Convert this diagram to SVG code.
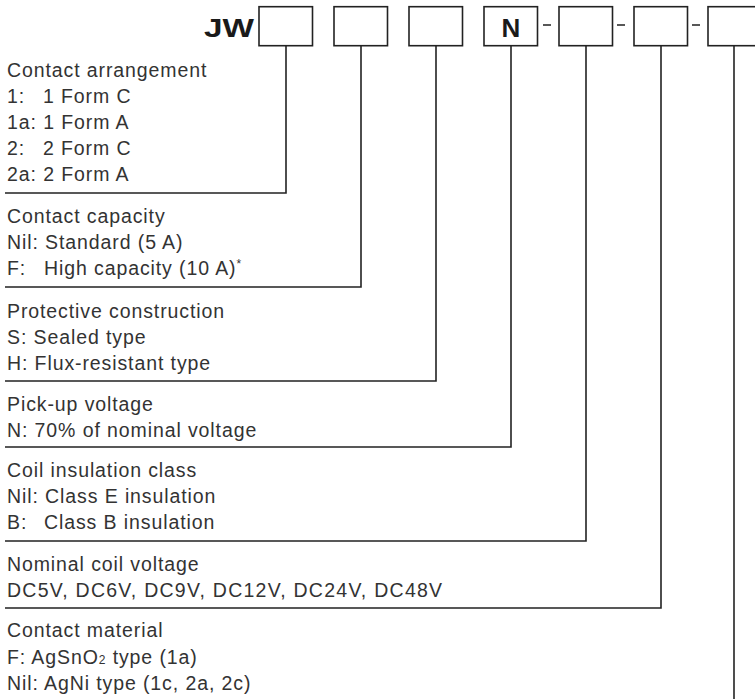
<svg xmlns="http://www.w3.org/2000/svg" width="755" height="699" viewBox="0 0 755 699">
<style>
.box{fill:#fff;stroke:#222;stroke-width:1.6}
.con{fill:none;stroke:#222;stroke-width:1.6}
.t{font-family:"Liberation Sans",Arial,sans-serif;font-size:19.5px;letter-spacing:0.9px;fill:#333}
.b{font-family:"Liberation Sans",Arial,sans-serif;font-weight:bold;font-size:26px;fill:#1a1a1a}
</style>
<rect width="755" height="699" fill="#fff"/>
<text class="b" x="204" y="37" textLength="50" lengthAdjust="spacingAndGlyphs">JW</text>
<g id="box1"><rect class="box" x="259" y="6.7" width="53.5" height="39"/></g>
<g id="box2"><rect class="box" x="334" y="6.7" width="53.5" height="39"/></g>
<g id="box3"><rect class="box" x="409" y="6.7" width="53.5" height="39"/></g>
<g id="box4"><rect class="box" x="484" y="6.7" width="53.5" height="39"/><text class="b" x="511" y="37" text-anchor="middle">N</text></g>
<g id="box5"><rect class="box" x="559" y="6.7" width="53.5" height="39"/></g>
<g id="box6"><rect class="box" x="634" y="6.7" width="53.5" height="39"/></g>
<g id="box7"><rect class="box" x="708" y="6.7" width="54" height="39"/></g>
<g id="dashes" class="con">
<path d="M543 25H551M617 25H625M692 25H700"/>
</g>
<g id="connectors" class="con">
<path d="M286 45.7V193H5"/>
<path d="M361 45.7V287H5"/>
<path d="M436 45.7V381H5"/>
<path d="M511 45.7V447H5"/>
<path d="M586 45.7V541H5"/>
<path d="M661 45.7V608H5"/>
<path d="M734 45.7V699"/>
</g>
<g id="sec1" class="t">
<text x="7" y="77">Contact arrangement</text>
<text x="7" y="103">1:<tspan x="43">1 Form C</tspan></text>
<text x="7" y="129">1a: 1 Form A</text>
<text x="7" y="155">2:<tspan x="43">2 Form C</tspan></text>
<text x="7" y="181">2a: 2 Form A</text>
</g>
<g id="sec2" class="t">
<text x="7" y="223">Contact capacity</text>
<text x="7" y="249">Nil: Standard (5 A)</text>
<text x="7" y="275">F:<tspan x="44">High capacity (10 A)</tspan><tspan font-size="12" dy="-7">*</tspan></text>
</g>
<g id="sec3" class="t">
<text x="7" y="317.5">Protective construction</text>
<text x="7" y="343.5">S: Sealed type</text>
<text x="7" y="369.5">H: Flux-resistant type</text>
</g>
<g id="sec4" class="t">
<text x="7" y="410.5">Pick-up voltage</text>
<text x="7" y="436.5">N: 70% of nominal voltage</text>
</g>
<g id="sec5" class="t">
<text x="7" y="476.5">Coil insulation class</text>
<text x="7" y="502.5">Nil: Class E insulation</text>
<text x="7" y="528.5">B:<tspan x="44">Class B insulation</tspan></text>
</g>
<g id="sec6" class="t">
<text x="7" y="570.5">Nominal coil voltage</text>
<text x="7" y="596.5" textLength="436" lengthAdjust="spacing">DC5V, DC6V, DC9V, DC12V, DC24V, DC48V</text>
</g>
<g id="sec7" class="t">
<text x="7" y="637">Contact material</text>
<text x="7" y="663.5">F: AgSnO<tspan font-size="12">2</tspan> type (1a)</text>
<text x="7" y="689.5">Nil: AgNi type (1c, 2a, 2c)</text>
</g>
</svg>
